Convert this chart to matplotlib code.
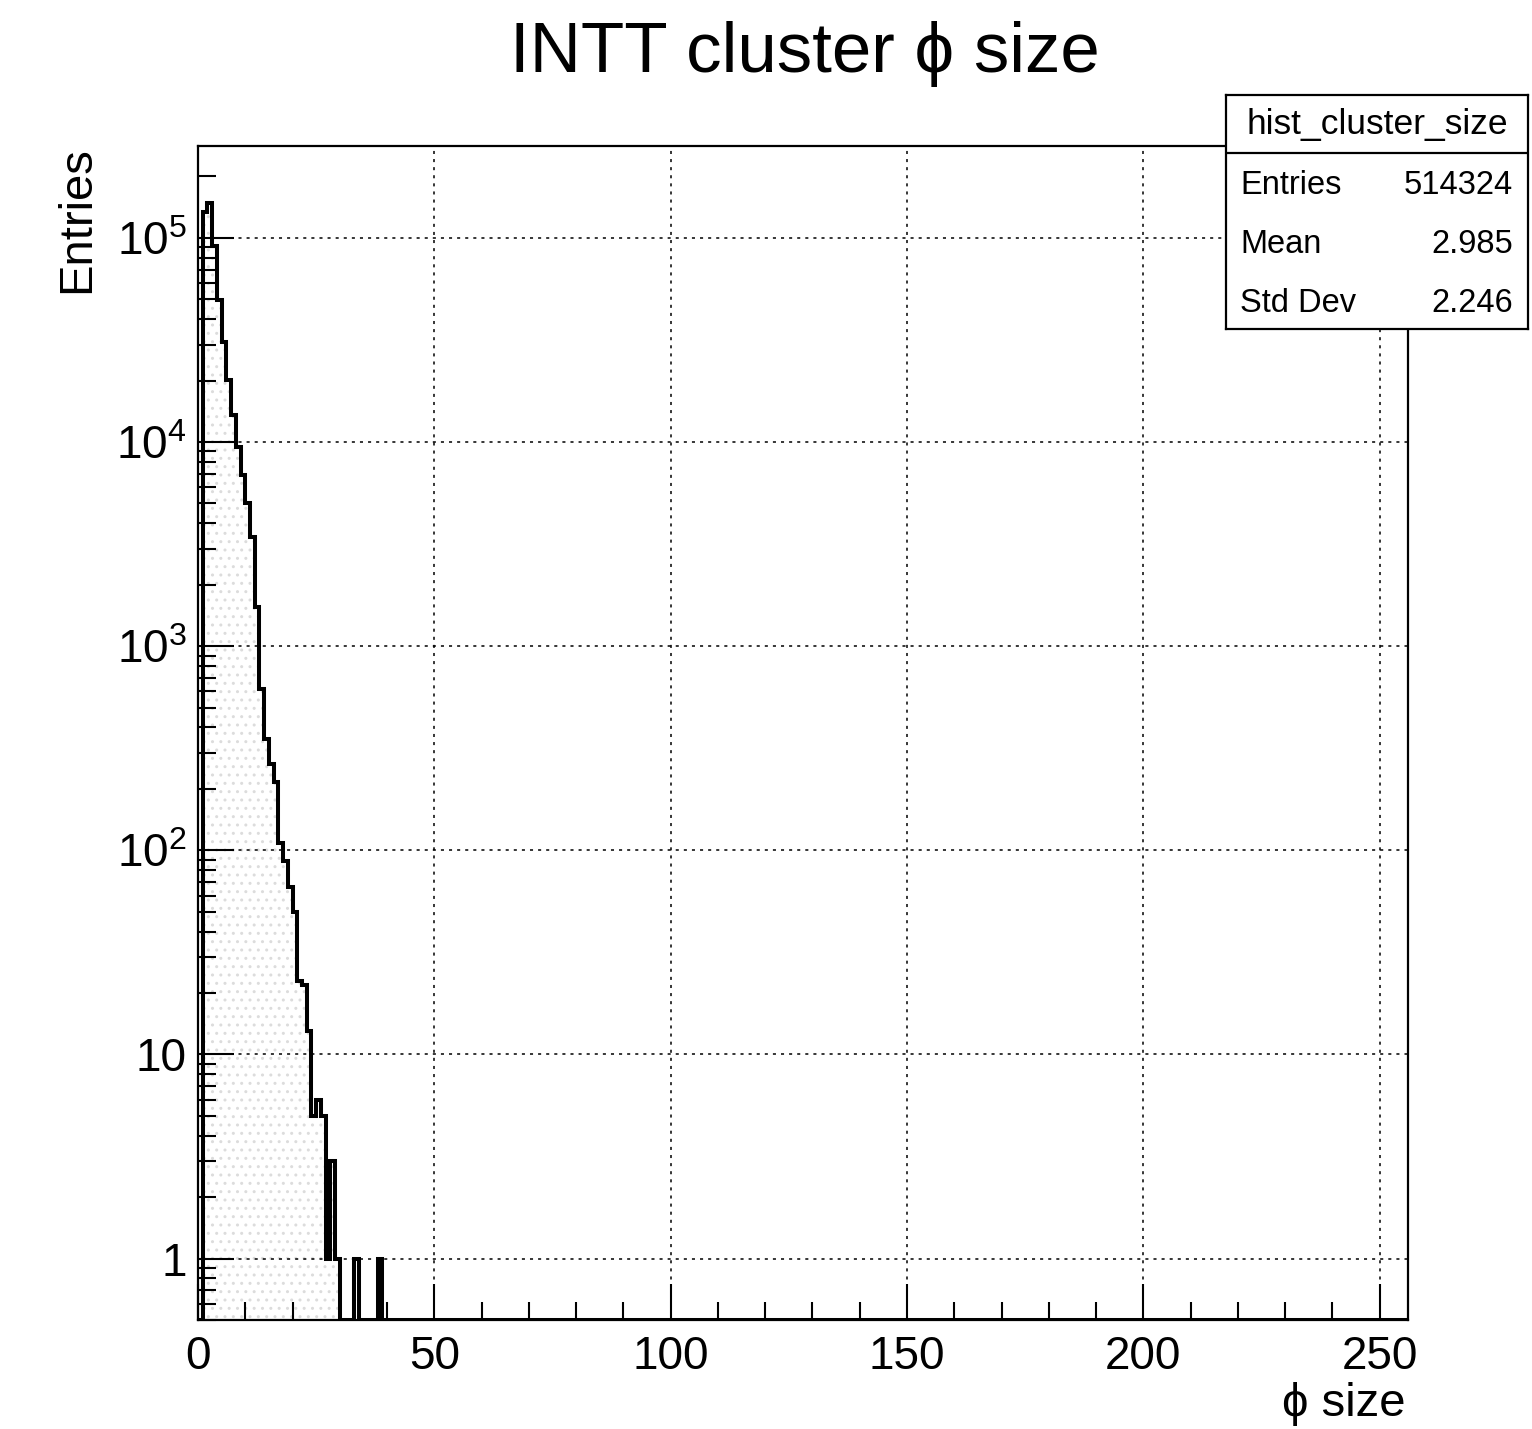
import numpy as np
import matplotlib
matplotlib.use('Agg')
import matplotlib.pyplot as plt
from matplotlib.ticker import LogLocator, MultipleLocator, NullFormatter, FixedLocator

plt.rcParams['font.family'] = ['Liberation Sans', 'DejaVu Sans']
plt.rcParams['hatch.linewidth'] = 1.0

# phi-size histogram: 256 unit-width bins on [0, 256)
n_bins = 256
x_lo, x_hi = 0, 256
y_lo, y_hi = 0.5, 2.82e5

# only these bins have entries, all others are empty
filled_bins = [1, 2, 3, 4, 5, 6, 7, 8, 9, 10,
               11, 12, 13, 14, 15, 16, 17, 18, 19, 20,
               21, 22, 23, 24, 25, 26, 27, 28, 29, 33, 38]
filled_counts = [133500, 147500, 91500, 49700, 31000, 20100, 13600, 9500, 6900, 5000,
                 3420, 1550, 614, 350, 266, 216, 108, 89, 66, 50,
                 23, 22, 13, 5, 6, 5, 1, 3, 1, 1, 1]

x_ticks = [0, 50, 100, 150, 200, 250]
y_ticks = [1, 10, 100, 1000, 10000, 100000]
y_tick_labels = ['1', '10', r'$\mathregular{10^{2}}$', r'$\mathregular{10^{3}}$',
                 r'$\mathregular{10^{4}}$', r'$\mathregular{10^{5}}$']

title = 'INTT cluster ϕ size'
x_label = 'ϕ size'
y_label = 'Entries'
stats_name = 'hist_cluster_size'
stats_rows = [('Entries', '514324'), ('Mean', '2.985'), ('Std Dev', '2.246')]

edges = np.linspace(x_lo, x_hi, n_bins + 1)
counts = np.zeros(n_bins)
counts[filled_bins] = filled_counts
# empty bins sit on the axis floor of the log scale
shown = np.where(counts > 0, counts, y_lo)

W, H = 1532, 1429
fig = plt.figure(figsize=(W / 100, H / 100), dpi=100)
ax = fig.add_axes([198 / W, 1 - 1320 / H, 1210 / W, 1174 / H])

ax.stairs(shown, edges, baseline=y_lo, fill=True, facecolor='none',
          edgecolor='#dcdcdc', hatch='..', linewidth=0, zorder=1)
ax.stairs(shown, edges, baseline=y_lo, color='black', linewidth=2.9, zorder=3)

ax.set_yscale('log')
ax.set_xlim(x_lo, x_hi)
ax.set_ylim(y_lo, y_hi)

ax.xaxis.set_major_locator(FixedLocator(x_ticks))
ax.xaxis.set_minor_locator(MultipleLocator(10))
ax.set_yticks(y_ticks)
ax.set_yticklabels(y_tick_labels)
ax.yaxis.set_minor_locator(LogLocator(base=10, subs=np.arange(2, 10), numticks=30))
ax.yaxis.set_minor_formatter(NullFormatter())

ax.tick_params(which='both', direction='in', top=False, right=False, width=1.5, colors='black')
ax.tick_params(which='major', length=26, labelsize=33)
ax.tick_params(which='minor', length=13)
ax.tick_params(axis='x', which='major', pad=11)
ax.tick_params(axis='y', which='major', pad=8)

ax.grid(True, which='major', color='black', linestyle=(0, (2, 3.3)), linewidth=1.1)
for sp in ax.spines.values():
    sp.set_linewidth(1.6)

fig.text(805 / W, 1 - 72 / H, title, ha='center', va='baseline', fontsize=51)
fig.text(1406 / W, 1 - 1416 / H, x_label, ha='right', va='baseline', fontsize=34)
fig.text(77 / W, 1 - 146 / H, y_label, ha='center', va='top', rotation=90, fontsize=34)

# statistics box
sax = fig.add_axes([1226 / W, 1 - 329 / H, 302 / W, 234 / H])
sax.set_xlim(0, 1)
sax.set_ylim(0, 1)
sax.set_xticks([])
sax.set_yticks([])
sax.set_facecolor('white')
for sp in sax.spines.values():
    sp.set_linewidth(1.6)
sax.axhline(0.752, color='black', linewidth=1.6)
sax.text(0.5, 0.872, stats_name, ha='center', va='center', fontsize=25.5)
for (name, val), yy in zip(stats_rows, [0.615, 0.359, 0.110]):
    sax.text(0.048, yy, name, ha='left', va='center', fontsize=23.5)
    sax.text(0.951, yy, val, ha='right', va='center', fontsize=23.5)

fig.savefig('out.png', dpi=100)
